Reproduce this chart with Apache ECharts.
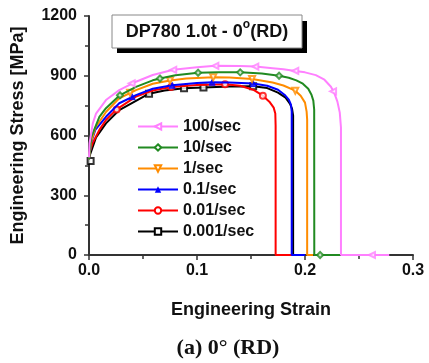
<!DOCTYPE html>
<html><head><meta charset="utf-8">
<script src="https://cdn.jsdelivr.net/npm/echarts@6/dist/echarts.min.js"></script>
<style>html,body{margin:0;padding:0;background:#fff}#c{width:429px;height:363px}</style>
</head><body><div id="c"></div>
<script>
var seriesNames = ['100/sec','10/sec','1/sec','0.1/sec','0.01/sec','0.001/sec'];
var xTicks = [0, 0.1, 0.2, 0.3];
var yTicks = [0, 300, 600, 900, 1200];

var curve100 = [[0,490],[0.0005,560],[0.0035,660],[0.0065,710],[0.0157,778],[0.028,828],[0.0435,870],[0.059,904],[0.078,930],[0.1,943],[0.117,950],[0.14,949],[0.154,946],[0.17,938],[0.18,933],[0.191,924],[0.2,917],[0.21,903],[0.218,880],[0.224,845],[0.227,815],[0.23,770],[0.2322,715],[0.2333,640],[0.2333,0],[0.278,0]];
var curve10 = [[0,480],[0.002,590],[0.0096,694],[0.0157,737],[0.028,800],[0.0435,844],[0.059,877],[0.0657,886],[0.08,902],[0.101,915],[0.12,917],[0.14,917],[0.16,911],[0.176,900],[0.185,890],[0.192,877],[0.198,860],[0.203,835],[0.206,805],[0.2077,775],[0.2085,730],[0.2086,0],[0.2324,0]];
var curve1 = [[0,480],[0.002,570],[0.006,640],[0.0157,718],[0.028,787],[0.0435,828],[0.059,860],[0.075,876],[0.09,886],[0.115,892],[0.13,891],[0.151,884],[0.17,866],[0.18,851],[0.191,825],[0.196,800],[0.2,765],[0.2015,720],[0.202,680],[0.202,0],[0.2075,0]];
var curve01 = [[0,480],[0.002,565],[0.006,630],[0.0157,694],[0.028,762],[0.0435,803],[0.059,835],[0.077,852],[0.1,863],[0.114,867],[0.13,866],[0.152,861],[0.165,850],[0.175,830],[0.181,805],[0.185,780],[0.187,755],[0.1877,720],[0.1877,0],[0.2,0]];
var curve001 = [[0,490],[0.0003,512],[0.0034,562],[0.0096,628],[0.0157,678],[0.0256,731],[0.0435,795],[0.059,826],[0.076,844],[0.1,854],[0.126,857],[0.14,850],[0.152,830],[0.161,800],[0.167,770],[0.171,740],[0.1725,710],[0.1728,650],[0.1728,0],[0.188,0]];
var curve0001 = [[0,460],[0.0003,494],[0.0065,590],[0.0157,661],[0.028,728],[0.0556,810],[0.07,826],[0.088,837],[0.106,841],[0.13,846],[0.152,847],[0.165,838],[0.175,815],[0.182,790],[0.186,760],[0.188,735],[0.189,700],[0.189,0],[0.19,0]];

var mark100 = [[0.0395,862],[0.078,930],[0.117,950],[0.154,946],[0.191,924],[0.226,822],[0.262,0]];
var mark10 = [[0.0287,802],[0.0657,886],[0.101,915],[0.14,917],[0.176,900],[0.214,0]];
var mark1 = [[0.038,815],[0.075,876],[0.115,892],[0.151,884],[0.191,825]];
var mark01 = [[0.04,795],[0.077,852],[0.114,867],[0.152,861]];
var mark001 = [[0.0256,731],[0.076,844],[0.126,857],[0.161,800]];
var mark0001 = [[0.0015,472],[0.0556,810],[0.088,837],[0.106,841],[0.152,847]];

var curves = [curve100, curve10, curve1, curve01, curve001, curve0001];
var marks = [mark100, mark10, mark1, mark01, mark001, mark0001];
var colors = ['#FF80FF','#218A21','#FF8C00','#0000FF','#FF0000','#000000'];
var symbols = ['emptyTriangle','emptyDiamond','emptyTriangle','triangle','emptyCircle','emptyRect'];
var rotates = [90, 0, 180, 0, 0, 0];

var series = [];
for (var i = 0; i < curves.length; i++) {
  series.push({
    name: seriesNames[i], type: 'line', data: curves[i],
    showSymbol: false, symbol: symbols[i], symbolSize: 6, symbolRotate: rotates[i],
    lineStyle: {color: colors[i], width: 2}, itemStyle: {color: colors[i]},
    z: 10 - i, animation: false
  });
  series.push({
    name: seriesNames[i] + ' pts', type: 'scatter', data: marks[i],
    symbol: symbols[i], symbolSize: 6, symbolRotate: rotates[i],
    itemStyle: {color: colors[i], borderColor: colors[i], borderWidth: 1},
    z: 10 - i, animation: false, silent: true
  });
}

var chart = echarts.init(document.getElementById('c'));
chart.setOption({
  backgroundColor: '#fff',
  animation: false,
  grid: {left: 89, right: 16, top: 16, bottom: 108, containLabel: false},
  legend: {
    data: seriesNames, orient: 'vertical', left: 132, top: 113,
    itemWidth: 40, itemHeight: 8, itemGap: 4,
    textStyle: {fontFamily: 'Liberation Sans, Arial', fontWeight: 'bold', fontSize: 16, color: '#111', lineHeight: 17},
    selectedMode: false
  },
  xAxis: {
    type: 'value', min: 0, max: 0.3, interval: 0.1,
    name: 'Engineering Strain', nameLocation: 'middle', nameGap: 46,
    nameTextStyle: {fontFamily: 'Liberation Sans, Arial', fontWeight: 'bold', fontSize: 18, color: '#111'},
    axisLine: {lineStyle: {color: '#333', width: 2}},
    axisTick: {show: true, length: 5, lineStyle: {color: '#333', width: 1.5}},
    minorTick: {show: true, splitNumber: 2, length: 4, lineStyle: {color: '#333', width: 1.5}},
    splitLine: {show: false},
    axisLabel: {margin: 8, fontFamily: 'Liberation Sans, Arial', fontWeight: 'bold', fontSize: 16, color: '#111',
      formatter: function (v) { return xTicks.indexOf(+v.toFixed(1)) >= 0 ? v.toFixed(1) : ''; }}
  },
  yAxis: {
    type: 'value', min: 0, max: 1200, interval: 300,
    name: 'Engineering Stress [MPa]', nameLocation: 'middle', nameGap: 62,
    nameTextStyle: {fontFamily: 'Liberation Sans, Arial', fontWeight: 'bold', fontSize: 18, color: '#111'},
    axisLine: {show: true, lineStyle: {color: '#333', width: 2}},
    axisTick: {show: true, length: 5, lineStyle: {color: '#333', width: 1.5}},
    minorTick: {show: true, splitNumber: 2, length: 4, lineStyle: {color: '#333', width: 1.5}},
    splitLine: {show: false},
    axisLabel: {margin: 12, fontFamily: 'Liberation Sans, Arial', fontWeight: 'bold', fontSize: 16, color: '#111',
      formatter: function (v) { return yTicks.indexOf(v) >= 0 ? String(v) : ''; }}
  },
  graphic: [
    {type: 'rect', shape: {x: 117, y: 21, width: 190, height: 32}, style: {fill: '#000'}, z: 100},
    {type: 'rect', shape: {x: 112, y: 15, width: 190, height: 33}, style: {fill: '#fff', stroke: '#888', lineWidth: 1}, z: 101},
    {type: 'text', x: 207, y: 32, z: 102, style: {
      text: '{a|DP780 1.0t - 0}{s|o}{a|(RD)}', align: 'center', verticalAlign: 'middle',
      rich: {a: {fontFamily: 'Liberation Sans, Arial', fontWeight: 'bold', fontSize: 18, lineHeight: 20, fill: '#111', verticalAlign: 'middle'},
             s: {fontFamily: 'Liberation Sans, Arial', fontWeight: 'bold', fontSize: 12, lineHeight: 12, fill: '#111', verticalAlign: 'middle', padding: [0, 0, 14, 0]}}
    }},
    {type: 'text', x: 228, y: 348, z: 102, style: {
      text: '(a) 0° (RD)', align: 'center', verticalAlign: 'middle',
      fontFamily: 'Liberation Serif, Times New Roman', fontWeight: 'bold', fontSize: 22, fill: '#111'
    }}
  ],
  series: series
});
</script></body></html>
